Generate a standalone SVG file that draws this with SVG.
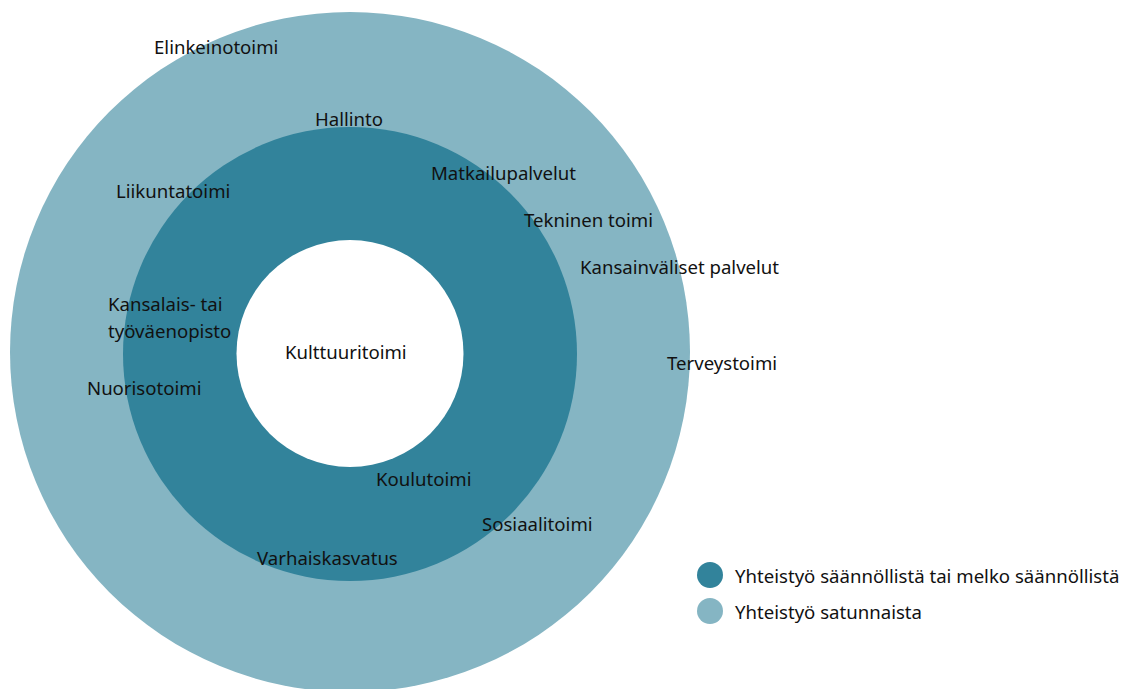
<svg xmlns="http://www.w3.org/2000/svg" width="1123" height="689" viewBox="0 0 1123 689">
<style>
.t{font-family:"Noto Sans","Open Sans","Liberation Sans",sans-serif;font-size:18.6px;fill:#111}
.light{fill:#85b5c3}
.dark{fill:#32839b}
</style>
<rect width="1123" height="689" fill="#fff"/>
<g id="outer"><circle class="light" cx="350" cy="352" r="340"/></g>
<g id="middle"><circle class="dark" cx="350" cy="354" r="227"/></g>
<g id="center"><circle cx="350" cy="353.5" r="113.5" fill="#fff"/><text class="t" x="285" y="359">Kulttuuritoimi</text></g>
<g id="labels">
<text class="t" x="154" y="54">Elinkeinotoimi</text>
<text class="t" x="315" y="126">Hallinto</text>
<text class="t" x="116" y="198">Liikuntatoimi</text>
<text class="t" x="431" y="180">Matkailupalvelut</text>
<text class="t" x="524" y="227">Tekninen toimi</text>
<text class="t" x="580" y="274">Kansainväliset palvelut</text>
<text class="t" x="667" y="370">Terveystoimi</text>
<text class="t" x="108" y="311">Kansalais- tai</text>
<text class="t" x="108" y="338">työväenopisto</text>
<text class="t" x="87" y="395">Nuorisotoimi</text>
<text class="t" x="376" y="486">Koulutoimi</text>
<text class="t" x="482" y="531">Sosiaalitoimi</text>
<text class="t" x="257" y="565">Varhaiskasvatus</text>
</g>
<g id="legend">
<circle class="dark" cx="710" cy="575" r="13"/>
<text class="t" x="735" y="583">Yhteistyö säännöllistä tai melko säännöllistä</text>
<circle class="light" cx="710" cy="611" r="13"/>
<text class="t" x="735" y="619">Yhteistyö satunnaista</text>
</g>
</svg>
